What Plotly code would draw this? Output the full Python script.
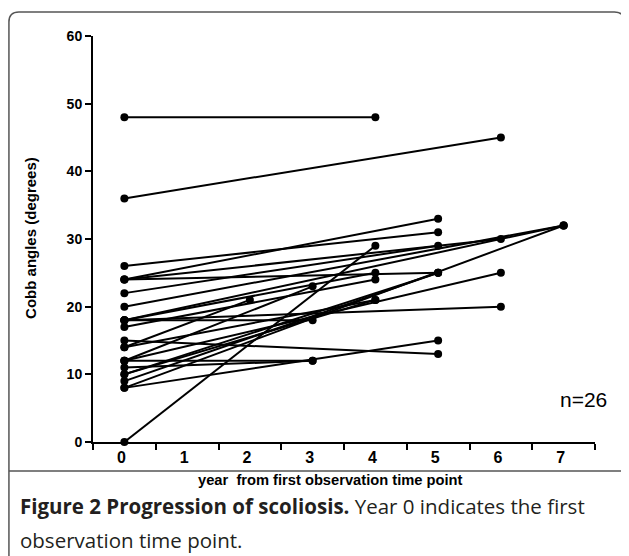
import plotly.graph_objects as go

# Each patient: Cobb angle at year 0 and at the last observation
start_angle = [48, 36, 26, 24, 24, 24, 22, 20, 18, 18, 18, 17, 15, 14, 18, 12, 12, 11, 12, 10, 10, 9, 8, 8, 0, 14]
end_year    = [4,  6,  5,  5,  5,  6,  5,  7,  7,  3,  6,  4,  5,  2,  4,  3,  3,  3,  6,  4,  5,  5, 5, 7, 4, 4]
end_angle   = [48, 45, 31, 33, 25, 30, 29, 32, 32, 18, 20, 24, 13, 21, 25, 23, 12, 12, 25, 21, 25, 25, 15, 32, 29, 21]

x_tick_vals = [0, 1, 2, 3, 4, 5, 6, 7]
x_tick_text = ["0", "1", "2", "3", "4", "5", "6", "7"]
x_minor_ticks = [-0.5, 0.5, 1.5, 2.5, 3.5, 4.5, 5.5, 6.5, 7.5]
y_tick_vals = [0, 10, 20, 30, 40, 50, 60]

OFF = 8  # page body margin
W, H = 621, 548
L, T = 93 - OFF, 36 - OFF
B = H - (442 - OFF)
R = W - (594.6 - OFF)

def px(x):  # reference pixel -> paper x
    return (x - OFF - L) / (W - L - R)

def py(y):  # reference pixel -> paper y
    return (H - B - (y - OFF)) / (H - T - B)

fig = go.Figure()
for s, ey, ea in zip(start_angle, end_year, end_angle):
    fig.add_trace(go.Scatter(
        x=[0, ey], y=[s, ea], mode="lines+markers",
        line=dict(color="black", width=2),
        marker=dict(color="black", size=8),
        showlegend=False, hoverinfo="skip", cliponaxis=False))

fig.update_layout(
    width=W, height=H,
    margin=dict(l=L, r=R, t=T, b=B),
    paper_bgcolor="white", plot_bgcolor="white",
    xaxis=dict(range=[-0.5, 7.5], showgrid=False, zeroline=False,
               showline=True, linecolor="black", linewidth=2,
               tickvals=x_tick_vals, ticktext=x_tick_text, ticks="",
               ticklabelshift=-3,
               tickfont=dict(family="Liberation Sans, Arial", size=16, color="black", weight="bold"),
               minor=dict(tickvals=x_minor_ticks, ticks="outside", ticklen=6,
                          tickwidth=2, tickcolor="black", showgrid=False)),
    yaxis=dict(range=[0, 60], showgrid=False, zeroline=False,
               showline=True, linecolor="black", linewidth=2,
               tickvals=y_tick_vals, ticks="outside", ticklen=6, tickwidth=2,
               tickcolor="black",
               tickfont=dict(family="Liberation Sans, Arial", size=14, color="black", weight="bold")),
)

fig.add_annotation(text="<b>year  from first observation time point</b>",
                   xref="paper", yref="paper", x=px(330), y=py(480),
                   showarrow=False, xanchor="center", yanchor="middle",
                   font=dict(family="Liberation Sans, Arial", size=14.7, color="black"))
fig.add_annotation(text="<b>Cobb angles (degrees)</b>",
                   xref="paper", yref="paper", x=px(31), y=py(238),
                   showarrow=False, xanchor="center", yanchor="middle", textangle=-90,
                   font=dict(family="Liberation Sans, Arial", size=15, color="black"))
fig.add_annotation(text="n=26",
                   xref="paper", yref="paper", x=px(583), y=py(399),
                   showarrow=False, xanchor="center", yanchor="middle",
                   font=dict(family="Liberation Sans, Arial", size=21, color="black"))

cap_font = dict(family="Open Sans", size=20.5, color="#231f20")
fig.add_annotation(text="<b>Figure 2 Progression of scoliosis.</b> Year 0 indicates the first",
                   xref="paper", yref="paper", x=px(18), y=py(506),
                   showarrow=False, xanchor="left", yanchor="middle", font=cap_font)
fig.add_annotation(text="observation time point.",
                   xref="paper", yref="paper", x=px(18), y=py(540),
                   showarrow=False, xanchor="left", yanchor="middle", font=cap_font)

# rounded frame around the figure and separator line above the caption
x0, x1, y0, y1, r = 9, 624, 12, 600, 10
path = (f"M {px(x0)},{py(y0 + r)} L {px(x0)},{py(y1)} L {px(x1)},{py(y1)} "
        f"L {px(x1)},{py(y0 + r)} Q {px(x1)},{py(y0)} {px(x1 - r)},{py(y0)} "
        f"L {px(x0 + r)},{py(y0)} Q {px(x0)},{py(y0)} {px(x0)},{py(y0 + r)}")
fig.add_shape(type="path", path=path, xref="paper", yref="paper",
              line=dict(color="#555555", width=1.5))
fig.add_shape(type="line", xref="paper", yref="paper",
              x0=px(x0), x1=px(x1), y0=py(471), y1=py(471),
              line=dict(color="#555555", width=1.5))

fig.write_html("out.html")
